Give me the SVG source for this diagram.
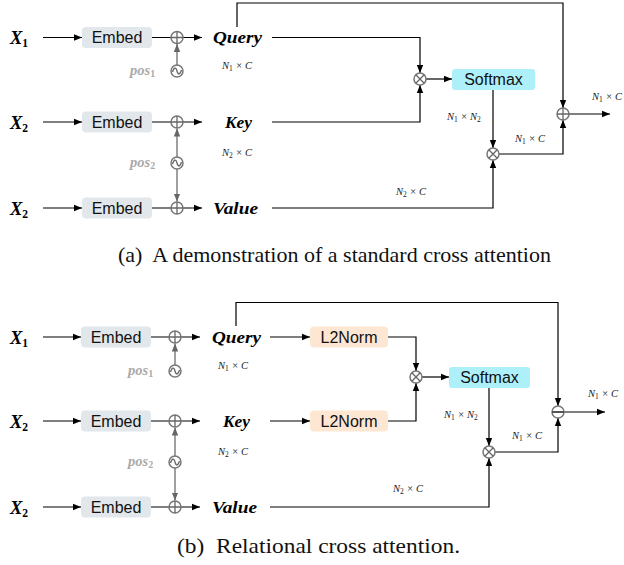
<svg xmlns="http://www.w3.org/2000/svg" width="624" height="565" viewBox="0 0 624 565">
<defs>
<marker id="ah" markerUnits="userSpaceOnUse" markerWidth="8" markerHeight="8" refX="8" refY="4" orient="auto"><path d="M0,0.8 L8,4 L0,7.2 Z" fill="#000"/></marker>
<marker id="ahg" markerUnits="userSpaceOnUse" markerWidth="8" markerHeight="8" refX="8" refY="4" orient="auto"><path d="M0,0.8 L8,4 L0,7.2 Z" fill="#666"/></marker>
<style>
.ln{stroke:#000;stroke-width:1.2;fill:none}
.gl{stroke:#777;stroke-width:1.4;fill:none}
.circ{stroke:#777;stroke-width:1.5;fill:#fff}
.cx{stroke:#666;stroke-width:1.3}
.var{font-family:"Liberation Serif","DejaVu Serif",serif;font-weight:bold;font-style:italic;font-size:17px;fill:#000}
.xv{font-size:18.5px}
.sub{font-size:11.5px;font-style:normal}
.box{font-family:"Liberation Sans",Arial,sans-serif;font-size:16px;fill:#111;text-anchor:middle}
.dim{font-family:"Liberation Serif","DejaVu Serif",serif;font-style:italic;font-size:10.5px;fill:#222}
.dsub{font-size:7.5px;font-style:normal}
.pos{font-family:"Liberation Serif","DejaVu Serif",serif;font-weight:bold;font-style:italic;font-size:14.5px;fill:#aaa}
.cap{font-family:"Liberation Serif","Times New Roman",serif;font-size:22px;fill:#111}
.emb{fill:#e2e7eb}
.sm{fill:#aef0fa}
.l2{fill:#fde7d3}
</style>
</defs>

<!-- ============ (a) ============ -->
<g id="a-connectors">
<path class="ln" d="M43,37.5 H82" marker-end="url(#ah)"/>
<path class="ln" d="M43,122 H82" marker-end="url(#ah)"/>
<path class="ln" d="M43,208 H82" marker-end="url(#ah)"/>
<path class="ln" d="M152,37.5 H202" marker-end="url(#ah)"/>
<path class="ln" d="M152,122 H202" marker-end="url(#ah)"/>
<path class="ln" d="M152,208 H202" marker-end="url(#ah)"/>
<path class="gl" d="M177,65 V44" marker-end="url(#ahg)"/>
<path class="gl" d="M177,157 V128.5" marker-end="url(#ahg)"/>
<path class="gl" d="M177,169 V201.5" marker-end="url(#ahg)"/>
<path class="ln" d="M272,37.5 H420 V73" marker-end="url(#ah)"/>
<path class="ln" d="M272,122 H420 V85" marker-end="url(#ah)"/>
<path class="ln" d="M426,79 H452" marker-end="url(#ah)"/>
<path class="ln" d="M493,90 V148" marker-end="url(#ah)"/>
<path class="ln" d="M499,154 H563 V120" marker-end="url(#ah)"/>
<path class="ln" d="M237,27 V3 H563 V108" marker-end="url(#ah)"/>
<path class="ln" d="M272,208 H493 V160" marker-end="url(#ah)"/>
<path class="ln" d="M569,114 H610" marker-end="url(#ah)"/>
</g>

<g id="a-x1"><text class="var xv" x="10" y="44">X<tspan class="sub" dy="3">1</tspan></text></g>
<g id="a-x2"><text class="var xv" x="10" y="128.5">X<tspan class="sub" dy="3">2</tspan></text></g>
<g id="a-x2b"><text class="var xv" x="10" y="214.5">X<tspan class="sub" dy="3">2</tspan></text></g>

<g id="a-embed1"><rect class="emb" x="82" y="27" width="70" height="21" rx="4"/><text class="box" x="117" y="43">Embed</text></g>
<g id="a-embed2"><rect class="emb" x="82" y="111.5" width="70" height="21" rx="4"/><text class="box" x="117" y="127.5">Embed</text></g>
<g id="a-embed3"><rect class="emb" x="82" y="197.5" width="70" height="21" rx="4"/><text class="box" x="117" y="213.5">Embed</text></g>

<g id="a-add1"><circle class="circ" cx="177" cy="37.5" r="6"/><path class="cx" d="M171,37.5 H183 M177,31.5 V43.5"/></g>
<g id="a-add2"><circle class="circ" cx="177" cy="122" r="6"/><path class="cx" d="M171,122 H183 M177,116 V128"/></g>
<g id="a-add3"><circle class="circ" cx="177" cy="208" r="6"/><path class="cx" d="M171,208 H183 M177,202 V214"/></g>

<g id="a-pos1"><circle class="circ" cx="177" cy="71" r="6"/><path class="cx" fill="none" d="M172.5,72 C174,67 176,67 177,71 C178,75 180,75 181.5,70"/><text class="pos" x="130" y="75">pos<tspan font-size="10" font-style="normal" dy="2">1</tspan></text></g>
<g id="a-pos2"><circle class="circ" cx="177" cy="163" r="6"/><path class="cx" fill="none" d="M172.5,164 C174,159 176,159 177,163 C178,167 180,167 181.5,162"/><text class="pos" x="130" y="167">pos<tspan font-size="10" font-style="normal" dy="2">2</tspan></text></g>

<g id="a-query"><text class="var" x="213" y="43" textLength="49" lengthAdjust="spacingAndGlyphs">Query</text></g>
<g id="a-key"><text class="var" x="225" y="128" textLength="27" lengthAdjust="spacingAndGlyphs">Key</text></g>
<g id="a-value"><text class="var" x="213" y="214" textLength="45" lengthAdjust="spacingAndGlyphs">Value</text></g>

<g id="a-dims">
<text class="dim" x="222" y="69">N<tspan class="dsub" dy="2">1</tspan><tspan dy="-2"> × C</tspan></text>
<text class="dim" x="222" y="156">N<tspan class="dsub" dy="2">2</tspan><tspan dy="-2"> × C</tspan></text>
<text class="dim" x="447" y="120">N<tspan class="dsub" dy="2">1</tspan><tspan dy="-2"> × N</tspan><tspan class="dsub" dy="2">2</tspan></text>
<text class="dim" x="515" y="142">N<tspan class="dsub" dy="2">1</tspan><tspan dy="-2"> × C</tspan></text>
<text class="dim" x="592" y="100">N<tspan class="dsub" dy="2">1</tspan><tspan dy="-2"> × C</tspan></text>
<text class="dim" x="396" y="195">N<tspan class="dsub" dy="2">2</tspan><tspan dy="-2"> × C</tspan></text>
</g>

<g id="a-mul1"><circle class="circ" cx="420" cy="79" r="6"/><path class="cx" d="M415.8,74.8 L424.2,83.2 M424.2,74.8 L415.8,83.2"/></g>
<g id="a-softmax"><rect class="sm" x="452" y="69" width="83" height="21" rx="3"/><text class="box" x="493.5" y="85">Softmax</text></g>
<g id="a-mul2"><circle class="circ" cx="493" cy="154" r="6"/><path class="cx" d="M488.8,149.8 L497.2,158.2 M497.2,149.8 L488.8,158.2"/></g>
<g id="a-add-out"><circle class="circ" cx="563" cy="114" r="6"/><path class="cx" d="M557,114 H569 M563,108 V120"/></g>

<g id="a-caption"><text class="cap" x="118" y="262" xml:space="preserve" textLength="433" lengthAdjust="spacingAndGlyphs">(a)  A demonstration of a standard cross attention</text></g>

<!-- ============ (b) ============ -->
<g id="b-connectors">
<path class="ln" d="M43,337 H81" marker-end="url(#ah)"/>
<path class="ln" d="M43,421 H81" marker-end="url(#ah)"/>
<path class="ln" d="M43,507 H81" marker-end="url(#ah)"/>
<path class="ln" d="M151,337 H200" marker-end="url(#ah)"/>
<path class="ln" d="M151,421 H200" marker-end="url(#ah)"/>
<path class="ln" d="M151,507 H200" marker-end="url(#ah)"/>
<path class="gl" d="M175,365 V343.5" marker-end="url(#ahg)"/>
<path class="gl" d="M175,456 V427.5" marker-end="url(#ahg)"/>
<path class="gl" d="M175,468 V500.5" marker-end="url(#ahg)"/>
<path class="ln" d="M270,337 H310" marker-end="url(#ah)"/>
<path class="ln" d="M270,421 H310" marker-end="url(#ah)"/>
<path class="ln" d="M388,337 H416 V371" marker-end="url(#ah)"/>
<path class="ln" d="M388,421 H416 V383" marker-end="url(#ah)"/>
<path class="ln" d="M422,377 H449" marker-end="url(#ah)"/>
<path class="ln" d="M489,388 V446" marker-end="url(#ah)"/>
<path class="ln" d="M495,452 H558 V418" marker-end="url(#ah)"/>
<path class="ln" d="M236,326 V302.5 H558 V406" marker-end="url(#ah)"/>
<path class="ln" d="M270,507 H489 V458" marker-end="url(#ah)"/>
<path class="ln" d="M564,412 H605" marker-end="url(#ah)"/>
</g>

<g id="b-x1"><text class="var xv" x="10" y="343.5">X<tspan class="sub" dy="3">1</tspan></text></g>
<g id="b-x2"><text class="var xv" x="10" y="427.5">X<tspan class="sub" dy="3">2</tspan></text></g>
<g id="b-x2b"><text class="var xv" x="10" y="513.5">X<tspan class="sub" dy="3">2</tspan></text></g>

<g id="b-embed1"><rect class="emb" x="81" y="326.5" width="70" height="21" rx="4"/><text class="box" x="116" y="342.5">Embed</text></g>
<g id="b-embed2"><rect class="emb" x="81" y="410.5" width="70" height="21" rx="4"/><text class="box" x="116" y="426.5">Embed</text></g>
<g id="b-embed3"><rect class="emb" x="81" y="496.5" width="70" height="21" rx="4"/><text class="box" x="116" y="512.5">Embed</text></g>

<g id="b-add1"><circle class="circ" cx="175" cy="337" r="6"/><path class="cx" d="M169,337 H181 M175,331 V343"/></g>
<g id="b-add2"><circle class="circ" cx="175" cy="421" r="6"/><path class="cx" d="M169,421 H181 M175,415 V427"/></g>
<g id="b-add3"><circle class="circ" cx="175" cy="507" r="6"/><path class="cx" d="M169,507 H181 M175,501 V513"/></g>

<g id="b-pos1"><circle class="circ" cx="175" cy="371" r="6"/><path class="cx" fill="none" d="M170.5,372 C172,367 174,367 175,371 C176,375 178,375 179.5,370"/><text class="pos" x="128" y="375">pos<tspan font-size="10" font-style="normal" dy="2">1</tspan></text></g>
<g id="b-pos2"><circle class="circ" cx="175" cy="462" r="6"/><path class="cx" fill="none" d="M170.5,463 C172,458 174,458 175,462 C176,466 178,466 179.5,461"/><text class="pos" x="128" y="466">pos<tspan font-size="10" font-style="normal" dy="2">2</tspan></text></g>

<g id="b-query"><text class="var" x="212" y="343" textLength="49" lengthAdjust="spacingAndGlyphs">Query</text></g>
<g id="b-key"><text class="var" x="223" y="427" textLength="27" lengthAdjust="spacingAndGlyphs">Key</text></g>
<g id="b-value"><text class="var" x="212" y="513" textLength="45" lengthAdjust="spacingAndGlyphs">Value</text></g>

<g id="b-l2norm1"><rect class="l2" x="310" y="326.5" width="78" height="21" rx="4"/><text class="box" x="349" y="342.5">L2Norm</text></g>
<g id="b-l2norm2"><rect class="l2" x="310" y="410.5" width="78" height="21" rx="4"/><text class="box" x="349" y="426.5">L2Norm</text></g>

<g id="b-dims">
<text class="dim" x="218" y="369">N<tspan class="dsub" dy="2">1</tspan><tspan dy="-2"> × C</tspan></text>
<text class="dim" x="218" y="455">N<tspan class="dsub" dy="2">2</tspan><tspan dy="-2"> × C</tspan></text>
<text class="dim" x="444" y="418">N<tspan class="dsub" dy="2">1</tspan><tspan dy="-2"> × N</tspan><tspan class="dsub" dy="2">2</tspan></text>
<text class="dim" x="512" y="439">N<tspan class="dsub" dy="2">1</tspan><tspan dy="-2"> × C</tspan></text>
<text class="dim" x="588" y="397">N<tspan class="dsub" dy="2">1</tspan><tspan dy="-2"> × C</tspan></text>
<text class="dim" x="393" y="492">N<tspan class="dsub" dy="2">2</tspan><tspan dy="-2"> × C</tspan></text>
</g>

<g id="b-mul1"><circle class="circ" cx="416" cy="377" r="6"/><path class="cx" d="M411.8,372.8 L420.2,381.2 M420.2,372.8 L411.8,381.2"/></g>
<g id="b-softmax"><rect class="sm" x="449" y="367" width="81" height="21" rx="3"/><text class="box" x="489.5" y="383">Softmax</text></g>
<g id="b-mul2"><circle class="circ" cx="489" cy="452" r="6"/><path class="cx" d="M484.8,447.8 L493.2,456.2 M493.2,447.8 L484.8,456.2"/></g>
<g id="b-sub-out"><circle class="circ" cx="558" cy="412" r="6"/><path stroke="#555" stroke-width="2" d="M552,412 H564"/></g>

<g id="b-caption"><text class="cap" x="177" y="553" xml:space="preserve" textLength="283" lengthAdjust="spacingAndGlyphs">(b)  Relational cross attention.</text></g>
</svg>
